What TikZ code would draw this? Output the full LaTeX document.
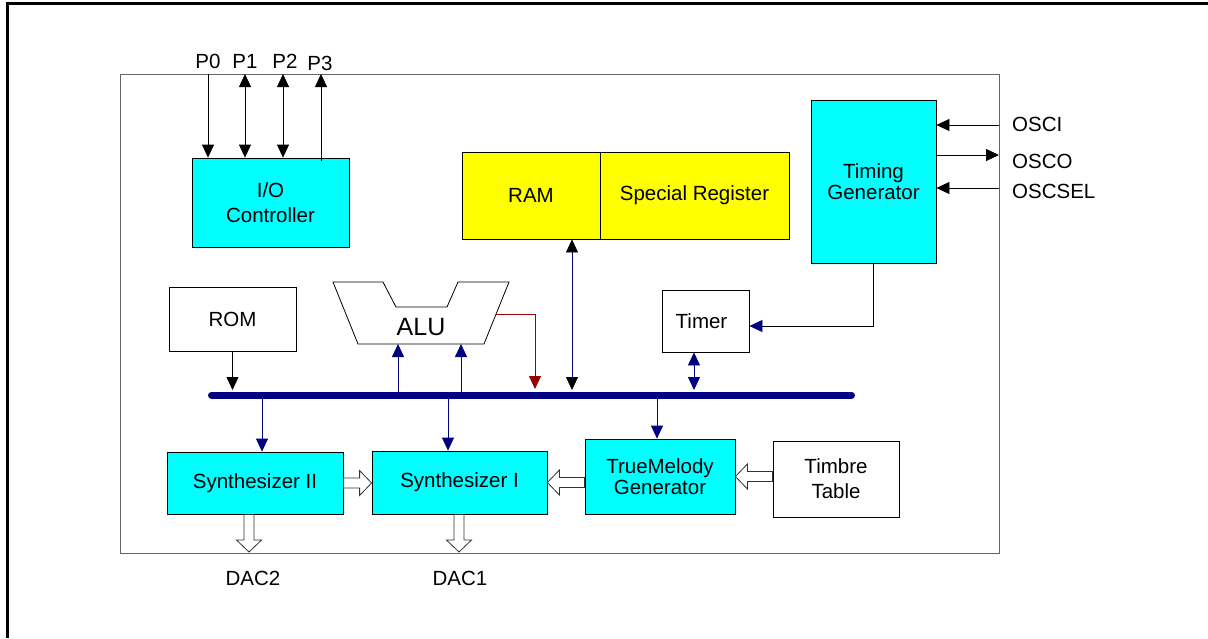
\documentclass[tikz,border=0pt]{standalone}
\usepackage{fontspec}
\setmainfont{Liberation Sans}
\definecolor{chipcyan}{RGB}{0,255,255}
\definecolor{chipyellow}{RGB}{255,255,0}
\definecolor{busnavy}{RGB}{0,0,128}
\definecolor{alured}{RGB}{150,0,0}
\usetikzlibrary{arrows.meta,calc}
\newcommand{\lblfont}{\fontsize{20.5}{23}\selectfont}
\tikzset{
  block/.style={draw,line width=0.8pt,inner sep=0pt,align=center,font=\lblfont},
  sig/.style={line width=0.8pt,>={Triangle[width=12pt,length=13pt]}},
  navysig/.style={sig,draw=busnavy},
  hollow/.style={draw=black!80,line width=0.8pt,fill=white},
  pinlbl/.style={font=\lblfont,inner sep=0pt}
}
\newcommand{\hollowarrow}[2]{%
  \draw[hollow] let \p1=(#1), \p2=(#2),
    \n1={atan2(\y2-\y1,\x2-\x1)}, \n2={veclen(\x2-\x1,\y2-\y1)-12pt}
    in ($(\p1)+(\n1+90:5pt)$) -- ++(\n1:\n2) -- ++(\n1+90:7.5pt)
    -- (\p2) -- ($(\p2)+(\n1+180:12pt)+(\n1-90:12.5pt)$)
    -- ++(\n1+90:7.5pt) -- ($(\p1)+(\n1-90:5pt)$) -- cycle;}
\begin{document}
\begin{tikzpicture}[x=1pt,y=-1pt]
  \useasboundingbox (0,0) rectangle (1208,638);
  %% frames
  \draw[line width=3pt] (7,638) -- (7,3) -- (1208,3);
  \draw[black!60,line width=0.8pt] (120,74) rectangle (999,553);

  %% blocks
  \node[block,fill=chipcyan,minimum width=157pt,minimum height=89pt]
        (io) at (270.5,202.5) {I/O\\[2pt]Controller};
  \node[block,fill=chipyellow,minimum width=138pt,minimum height=87pt]
        (ram) at (531,195.5) {RAM};
  \node[block,fill=chipyellow,minimum width=189pt,minimum height=87pt]
        (spreg) at (694.5,195.5) {Special Register};
  \node[block,fill=chipcyan,minimum width=125pt,minimum height=163pt]
        (timgen) at (873.5,181.5) {Timing\\[-2pt]Generator};
  \node[block,minimum width=127pt,minimum height=64pt]
        (rom) at (232.5,319) {ROM};
  \node[block,minimum width=87pt,minimum height=62pt]
        (timer) at (705.5,321) {Timer\hspace*{8pt}};
  \node[block,fill=chipcyan,minimum width=176pt,minimum height=62pt]
        (synthb) at (255,483) {Synthesizer II};
  \node[block,fill=chipcyan,minimum width=175pt,minimum height=63pt]
        (syntha) at (459.5,482.5) {Synthesizer I};
  \node[block,fill=chipcyan,minimum width=150pt,minimum height=75pt]
        (melody) at (660,476.5) {TrueMelody\\[-2pt]Generator};
  \node[block,minimum width=126pt,minimum height=76pt]
        (timbre) at (836,479) {Timbre\\[2pt]Table};

  %% ALU
  \draw[line width=0.8pt] (333,282) -- (383,282) -- (396,307) -- (447,307)
        -- (458,282) -- (509,282) -- (484,344) -- (358,344) -- cycle;
  \node[font=\fontsize{25}{28}\selectfont,inner sep=0pt] (alu) at (421,327) {ALU};
  \coordinate (alua) at (398,344);
  \coordinate (alub) at (461,344);
  \coordinate (aluout) at (496,314);
  \coordinate (aludrop) at (535,389);

  %% data bus
  \coordinate (busl) at (211.5,395);
  \coordinate (busr) at (851.5,395);
  \coordinate (bustop) at (0,390);
  \draw[busnavy,line width=7pt,line cap=round] (busl) -- (busr);

  %% ports
  \coordinate (p0) at (208,74);
  \coordinate (p1) at (245,74);
  \coordinate (p2) at (283,74);
  \coordinate (p3) at (321,74);
  \node[pinlbl] (p0lbl) at (208,61) {P0};
  \node[pinlbl] (p1lbl) at (245,61) {P1};
  \node[pinlbl] (p2lbl) at (285,61) {P2};
  \node[pinlbl] (p3lbl) at (320,63) {P3};
  \draw[sig,->] (p0) -- (p0 |- io.north);
  \draw[sig,<->] (p1) -- (p1 |- io.north);
  \draw[sig,<->] (p2) -- (p2 |- io.north);
  \draw[sig,->] ([yshift=-3pt]p3 |- io.north) -- (p3);

  %% oscillator pins
  \coordinate (osci) at (999,125);
  \coordinate (osco) at (999,155);
  \coordinate (oscsel) at (999,188);
  \node[pinlbl,anchor=west] (oscilbl) at (1012,124) {OSCI};
  \node[pinlbl,anchor=west] (oscolbl) at (1012,161) {OSCO};
  \node[pinlbl,anchor=west] (oscsellbl) at (1012,191) {OSCSEL};
  \draw[sig,->] (osci) -- (osci -| timgen.east);
  \draw[sig,->] (osco -| timgen.east) -- (osco);
  \draw[sig,->] (oscsel) -- (oscsel -| timgen.east);

  %% bus connections
  \draw[sig,->] (rom.south) -- (rom.south |- bustop);
  \draw[navysig,->] (alua |- busl) -- (alua);
  \draw[navysig,->] (alub |- busl) -- (alub);
  \draw[sig,draw=alured,->] (aluout) -| (aludrop);
  \draw[sig,draw=busnavy,<->,>={Triangle[width=12pt,length=13pt,black]}]
        ([xshift=41pt]ram.south) -- ([xshift=41pt]ram.south |- bustop);
  \draw[navysig,<->] ([xshift=-11.5pt]timer.south) -- ([xshift=-11.5pt]timer.south |- bustop);
  \draw[sig,->,>={Triangle[width=12pt,length=13pt,busnavy]}]
        (timgen.south) |- ([yshift=-5pt]timer.east);
  \draw[navysig,->] ([xshift=7pt]synthb.north |- busl) -- ([xshift=7pt]synthb.north);
  \draw[navysig,->] ([xshift=-11.5pt]syntha.north |- busl) -- ([xshift=-11.5pt]syntha.north);
  \draw[navysig,->] ([xshift=-3pt]melody.north |- busl) -- ([xshift=-3pt]melody.north);

  %% wide data paths
  \coordinate (dacb) at (249,552);
  \coordinate (daca) at (459,552);
  \hollowarrow{synthb.east}{syntha.west |- synthb.east}
  \hollowarrow{melody.west |- syntha.east}{syntha.east}
  \hollowarrow{timbre.west |- melody.east}{melody.east}
  \hollowarrow{dacb |- synthb.south}{dacb}
  \hollowarrow{daca |- syntha.south}{daca}
  \node[pinlbl] (dacblbl) at (253,578) {DAC2};
  \node[pinlbl] (dacalbl) at (460,578) {DAC1};
\end{tikzpicture}
\end{document}
